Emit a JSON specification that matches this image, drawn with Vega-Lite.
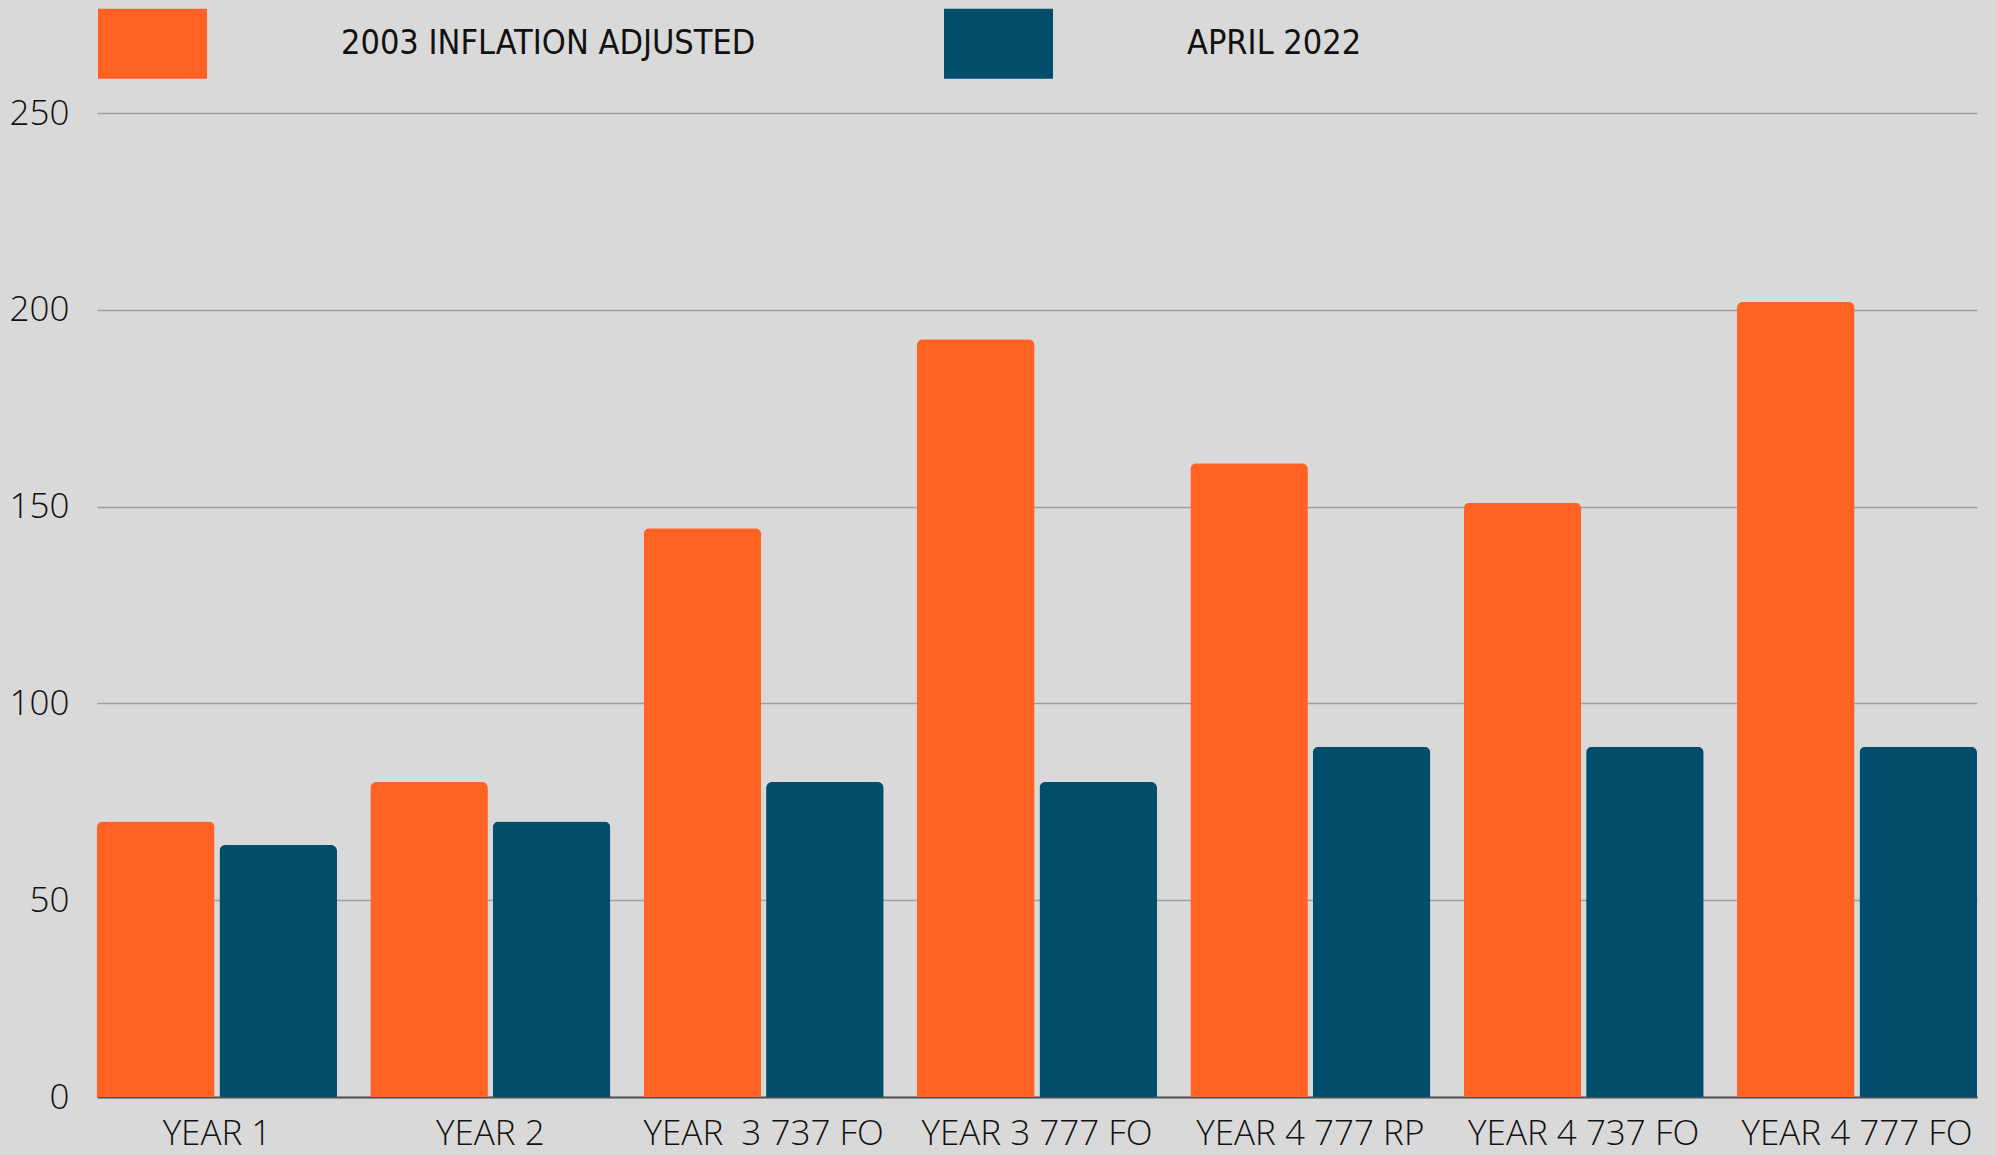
{
  "$schema": "https://vega.github.io/schema/vega-lite/v6.json",
  "width": 1880,
  "height": 984,
  "autosize": {"type": "none"},
  "padding": {"left": 97, "top": 113, "right": 19, "bottom": 59},
  "background": "#d9d9d9",
  "config": {"view": {"stroke": null}},
  "data": {
    "values": [
      {"category": "YEAR 1", "series": "2003 INFLATION ADJUSTED", "value": 70},
      {"category": "YEAR 1", "series": "APRIL 2022", "value": 64},
      {"category": "YEAR 2", "series": "2003 INFLATION ADJUSTED", "value": 80},
      {"category": "YEAR 2", "series": "APRIL 2022", "value": 70},
      {"category": "YEAR \u00a03 737 FO", "series": "2003 INFLATION ADJUSTED", "value": 144.5},
      {"category": "YEAR \u00a03 737 FO", "series": "APRIL 2022", "value": 80},
      {"category": "YEAR 3 777 FO", "series": "2003 INFLATION ADJUSTED", "value": 192.5},
      {"category": "YEAR 3 777 FO", "series": "APRIL 2022", "value": 80},
      {"category": "YEAR 4 777 RP", "series": "2003 INFLATION ADJUSTED", "value": 161},
      {"category": "YEAR 4 777 RP", "series": "APRIL 2022", "value": 89},
      {"category": "YEAR 4 737 FO", "series": "2003 INFLATION ADJUSTED", "value": 151},
      {"category": "YEAR 4 737 FO", "series": "APRIL 2022", "value": 89},
      {"category": "YEAR 4 777 FO", "series": "2003 INFLATION ADJUSTED", "value": 202},
      {"category": "YEAR 4 777 FO", "series": "APRIL 2022", "value": 89}
    ]
  },
  "mark": {"type": "bar", "cornerRadiusTopLeft": 6, "cornerRadiusTopRight": 6},
  "encoding": {
    "x": {
      "field": "category",
      "type": "nominal",
      "sort": null,
      "scale": {"paddingInner": 0.122, "paddingOuter": 0},
      "axis": {
        "title": null,
        "labelAngle": 0,
        "labelFont": "Open Sans",
        "labelFontWeight": 300,
        "labelFontSize": 35,
        "labelColor": "#111111",
        "labelPadding": 19,
        "ticks": false,
        "domainColor": "#555555",
        "domainWidth": 2,
        "labelLimit": 400
      }
    },
    "xOffset": {
      "field": "series",
      "type": "nominal",
      "sort": ["2003 INFLATION ADJUSTED", "APRIL 2022"],
      "scale": {"paddingInner": 0.04, "paddingOuter": 0}
    },
    "y": {
      "field": "value",
      "type": "quantitative",
      "scale": {"domain": [0, 250], "nice": false},
      "axis": {
        "title": null,
        "values": [0, 50, 100, 150, 200, 250],
        "labelFont": "Open Sans",
        "labelFontWeight": 300,
        "labelFontSize": 35,
        "labelColor": "#111111",
        "labelPadding": 28,
        "ticks": false,
        "domain": false,
        "gridColor": "#a0a0a0",
        "gridWidth": 1.5,
        "gridOpacity": 1
      }
    },
    "color": {
      "field": "series",
      "type": "nominal",
      "scale": {"domain": ["2003 INFLATION ADJUSTED", "APRIL 2022"], "range": ["#ff6223", "#014d6c"]},
      "legend": {
        "title": null,
        "orient": "none",
        "legendX": 1,
        "legendY": -124,
        "direction": "horizontal",
        "symbolType": "M-1,-0.642L1,-0.642L1,0.642L-1,0.642Z",
        "symbolSize": 11881,
        "symbolStrokeWidth": 0,
        "symbolOpacity": 1,
        "labelOffset": 134,
        "labelFont": "DejaVu Sans Condensed",
        "labelFontSize": 34,
        "labelColor": "#111111",
        "labelLimit": 600,
        "columnPadding": 188
      }
    }
  }
}
